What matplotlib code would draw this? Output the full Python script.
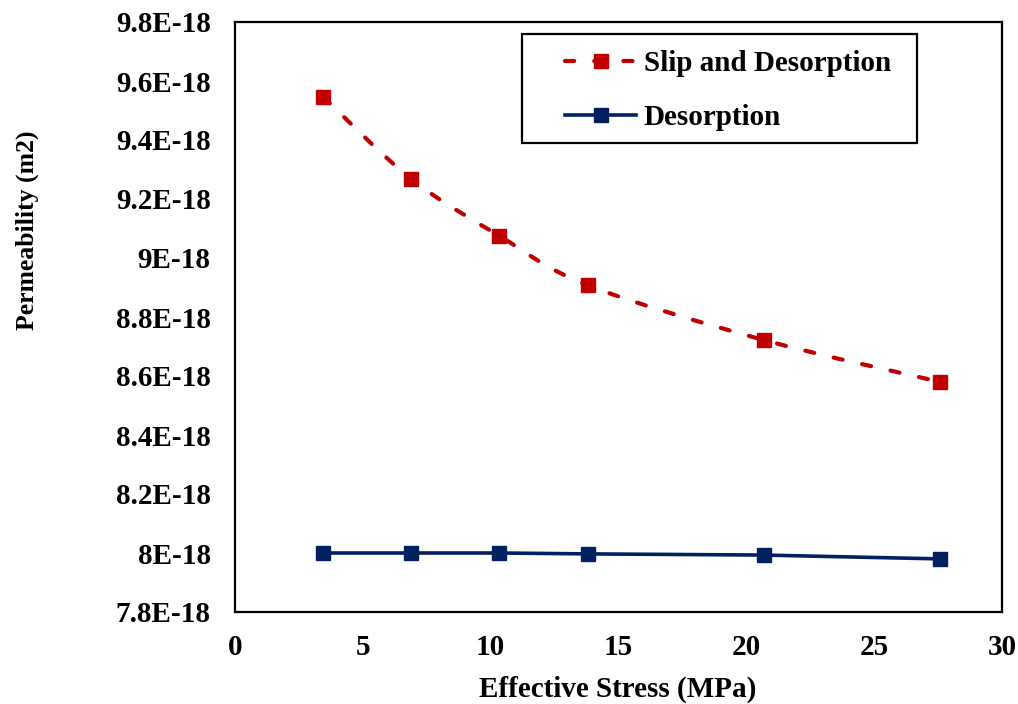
import matplotlib
matplotlib.use("Agg")
import matplotlib.pyplot as plt
import numpy as np
from matplotlib.path import Path
from matplotlib.patches import PathPatch, Rectangle
from matplotlib.lines import Line2D
from matplotlib.ticker import FuncFormatter, MultipleLocator

# effective stress (MPa)
stress = [3.45, 6.89, 10.34, 13.79, 20.68, 27.58]
# permeability (m2)
slip_desorption = [9.546e-18, 9.268e-18, 9.075e-18, 8.908e-18, 8.722e-18, 8.580e-18]
desorption = [8.000e-18, 8.000e-18, 8.000e-18, 7.997e-18, 7.993e-18, 7.980e-18]

series_labels = ["Slip and Desorption", "Desorption"]

RED = "#C00000"
NAVY = "#002060"
DASH = (0, (2.2, 4.8))

plt.rcParams['font.family'] = ['Liberation Serif', 'DejaVu Serif']
plt.rcParams['font.weight'] = 'bold'


def smooth_path(x, y):
    """
    Excel-like smoothed line: Catmull-Rom segments as cubic Bezier curves
    """
    x = np.asarray(x, float)
    y = np.asarray(y, float)
    verts = [(x[0], y[0])]
    codes = [Path.MOVETO]
    n = len(x)
    for i in range(n - 1):
        x0, y0 = (x[i - 1], y[i - 1]) if i > 0 else (x[i], y[i])
        x3, y3 = (x[i + 2], y[i + 2]) if i + 2 < n else (x[i + 1], y[i + 1])
        c1 = (x[i] + (x[i + 1] - x0) / 6, y[i] + (y[i + 1] - y0) / 6)
        c2 = (x[i + 1] - (x3 - x[i]) / 6, y[i + 1] - (y3 - y[i]) / 6)
        verts += [c1, c2, (x[i + 1], y[i + 1])]
        codes += [Path.CURVE4] * 3
    return Path(verts, codes)


W, H = 1018, 704
fig = plt.figure(figsize=(W / 100, H / 100), dpi=100)
ax = fig.add_axes([235 / W, 1 - 612 / H, 767 / W, 590 / H])

# red smoothed dashed curve
patch = PathPatch(smooth_path(stress, slip_desorption), facecolor='none',
                  edgecolor=RED, linewidth=3, linestyle=DASH,
                  capstyle='round', zorder=2)
ax.add_patch(patch)
ax.plot(stress, slip_desorption, linestyle='none', marker='s', markersize=10.5,
        color=RED, zorder=3)

ax.plot(stress, desorption, color=NAVY, linewidth=2.6, marker='s',
        markersize=10.5, zorder=3)

ax.set_xlim(0, 30)
ax.set_ylim(7.8e-18, 9.8e-18)
ax.xaxis.set_major_locator(MultipleLocator(5))
ax.yaxis.set_major_locator(MultipleLocator(0.2e-18))
ax.yaxis.set_major_formatter(FuncFormatter(lambda v, p: "{:g}E-18".format(round(v / 1e-18, 3))))

ax.tick_params(axis='both', length=0, labelsize=21)
ax.tick_params(axis='y', pad=17.5)
ax.tick_params(axis='x', pad=16)
for lab in ax.get_xticklabels() + ax.get_yticklabels():
    lab.set_fontweight('bold')
for sp in ax.spines.values():
    sp.set_linewidth(1.6)
    sp.set_color('black')

fig.text(618 / W, 1 - 689 / H, "Effective Stress (MPa)", fontsize=21,
         fontweight='bold', ha='center', va='center')
fig.text(27 / W, 1 - 230 / H, "Permeability (m2)", rotation=90, fontsize=18.5,
         fontweight='bold', ha='center', va='center')

# legend box drawn separately so its padding can differ per side
fig.patches.append(Rectangle((522 / W, 1 - 143 / H), 395 / W, 109 / H,
                             transform=fig.transFigure, facecolor='white',
                             edgecolor='black', linewidth=1.6, zorder=4))
handles = [
    Line2D([], [], color=RED, linewidth=3, linestyle=DASH,
           dash_capstyle='round', marker='s', markersize=10.5),
    Line2D([], [], color=NAVY, linewidth=2.6, marker='s', markersize=10.5),
]
leg = fig.legend(handles, series_labels, loc='upper left',
                 bbox_to_anchor=(565 / W, 1 - 50 / H), bbox_transform=fig.transFigure,
                 prop={'size': 21, 'weight': 'bold'}, frameon=False,
                 handlelength=2.45, handletextpad=0.25,
                 labelspacing=0.92, borderpad=0, borderaxespad=0)
leg.set_zorder(5)

fig.savefig("out.png", dpi=100)
